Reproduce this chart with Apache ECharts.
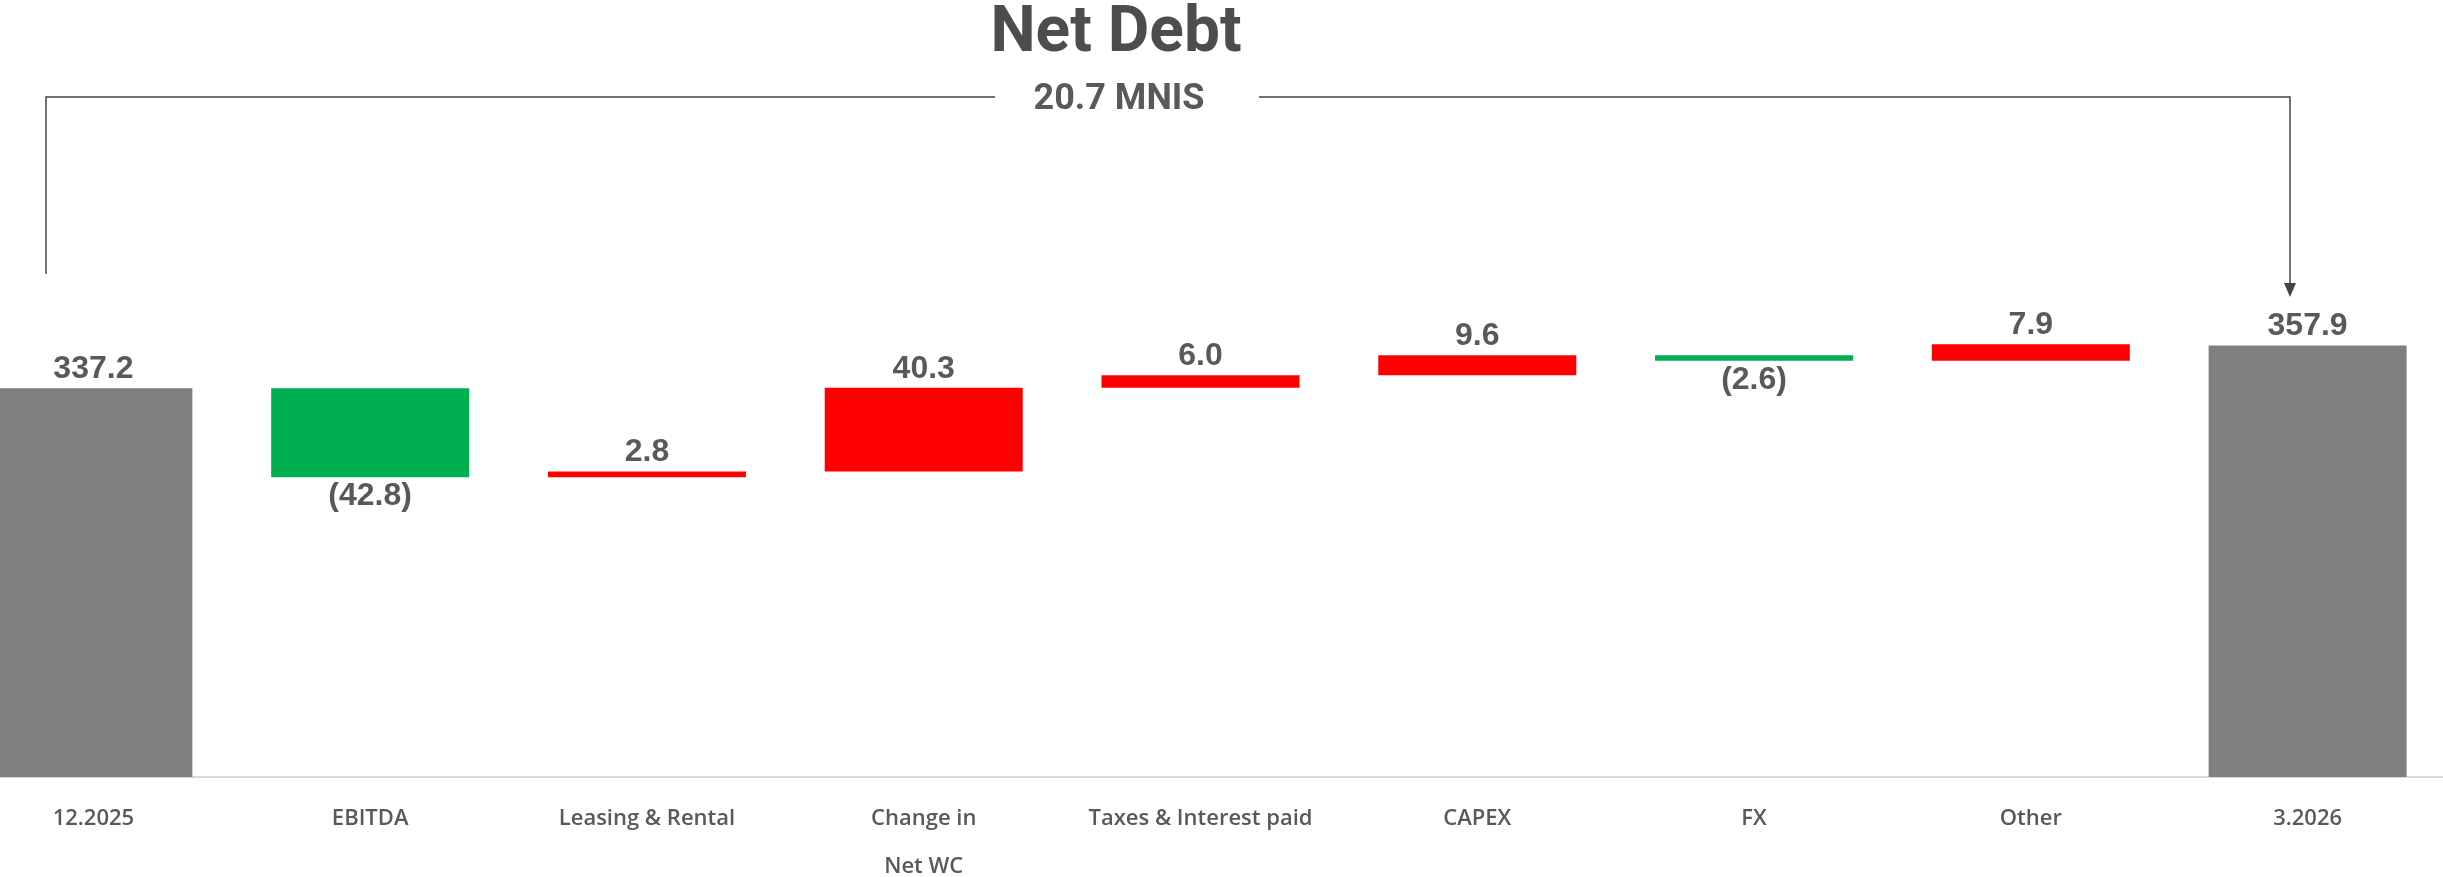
<!DOCTYPE html>
<html>
<head>
<meta charset="utf-8">
<script src="https://cdn.jsdelivr.net/npm/echarts@6/dist/echarts.min.js"></script>
<style>html,body{margin:0;padding:0;background:#fff}#c{width:2443px;height:877px}</style>
</head>
<body>
<div id="c"></div>
<script>
const categories = ['12.2025', 'EBITDA', 'Leasing & Rental', 'Change in\nNet WC', 'Taxes & Interest paid', 'CAPEX', 'FX', 'Other', '3.2026'];
const changes = [337.2, -42.8, 2.8, 40.3, 6.0, 9.6, -2.6, 7.9, 357.9];
const isTotal = [true, false, false, false, false, false, false, false, true];
const titleText = 'Net Debt';
const unitText = 'MNIS';

const GREY = '#7f7f7f', GREEN = '#00b050', RED = '#ff0000', TXT = '#595959';
const fmt = v => v < 0 ? '(' + Math.abs(v).toFixed(1) + ')' : v.toFixed(1);

const baseData = [], visData = [];
let running = 0;
changes.forEach((v, i) => {
  if (isTotal[i]) {
    baseData.push(0);
    visData.push({ value: v, itemStyle: { color: GREY }, label: { position: 'top', formatter: fmt(v) } });
    running = v;
  } else {
    const lo = v >= 0 ? running : running + v;
    baseData.push(lo);
    visData.push({ value: Math.abs(v), itemStyle: { color: v >= 0 ? RED : GREEN },
      label: { position: v >= 0 ? 'top' : 'bottom', formatter: fmt(v) } });
    running += v;
  }
});
const diff = (changes[changes.length - 1] - changes[0]).toFixed(1);

const chart = echarts.init(document.getElementById('c'));
chart.setOption({
  animation: false,
  grid: { left: -45, right: -3, top: 258, bottom: 100, containLabel: false, outerBoundsMode: 'none' },
  xAxis: {
    type: 'category', data: categories,
    axisLine: { lineStyle: { color: '#d9d9d9', width: 2 } },
    axisTick: { show: false },
    axisLabel: { interval: 0, margin: 18, fontFamily: 'Open Sans', fontWeight: 600, fontSize: 22, color: TXT, lineHeight: 48 }
  },
  yAxis: { type: 'value', min: 150, max: 400, show: false, splitLine: { show: false } },
  series: [
    { type: 'bar', stack: 'w', data: baseData, itemStyle: { color: 'transparent' }, barWidth: 198, silent: true },
    { type: 'bar', stack: 'w', data: visData, barWidth: 198,
      label: { show: true, distance: 3, fontFamily: 'Liberation Sans', fontWeight: 'bold', fontSize: 32, color: TXT } }
  ],
  graphic: [
    { type: 'text', style: { text: titleText, x: 1116, y: 35, textAlign: 'center', textVerticalAlign: 'middle', font: 'bold 64px Roboto', fill: '#4d4d4d' } },
    { type: 'text', style: { text: diff + ' ' + unitText, x: 1119, y: 100, textAlign: 'center', textVerticalAlign: 'middle', font: 'bold 36px Roboto', fill: TXT } },
    { type: 'polyline', shape: { points: [[46, 274], [46, 97], [995, 97]] }, style: { stroke: '#444', lineWidth: 1.5, fill: null } },
    { type: 'polyline', shape: { points: [[1259, 97], [2290, 97], [2290, 286]] }, style: { stroke: '#444', lineWidth: 1.5, fill: null } },
    { type: 'polygon', shape: { points: [[2284, 283], [2296, 283], [2290, 297]] }, style: { fill: '#444' } }
  ]
});
</script>
</body>
</html>
